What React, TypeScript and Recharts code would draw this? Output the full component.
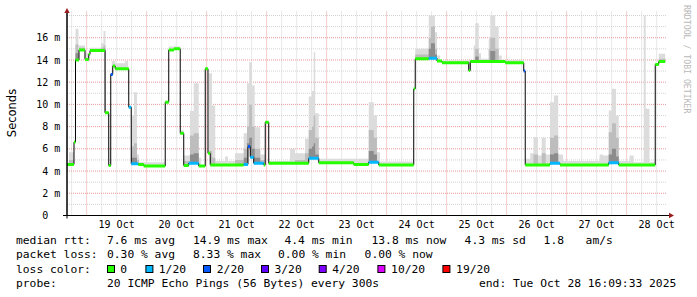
import React from 'react';
import { ComposedChart, Line, Area, XAxis, YAxis, CartesianGrid } from 'recharts';

const W = 697;
const H = 297;
const X_MAX = 240; // hours shown (10 days ending Tue Oct 28 16:09:33 2025)
const Y_MAX = 18.36; // ms
const MONO = '"DejaVu Sans Mono", monospace';

// ---- axis labels / ticks ----
const DAY_LABELS = ['19 Oct', '20 Oct', '21 Oct', '22 Oct', '23 Oct', '24 Oct', '25 Oct', '26 Oct', '27 Oct', '28 Oct'];
const DAY_NOON_HOURS = [19.85, 43.85, 67.85, 91.85, 115.85, 139.85, 163.85, 187.85, 211.85, 235.85];
const MIDNIGHT_HOURS = [7.85, 31.85, 55.85, 79.85, 103.85, 127.85, 151.85, 175.85, 199.85, 223.85];
const Y_TICKS = [0, 2, 4, 6, 8, 10, 12, 14, 16];
const Y_MAJOR_GRID = [2, 4, 6, 8, 10, 12, 14, 16];
const Y_MINOR_GRID = [1, 3, 5, 7, 9, 11, 13, 15, 17, 18];
const X_MINOR_GRID: number[] = [];
for (let h = 1.85; h < X_MAX; h += 6) {
  if (!MIDNIGHT_HOURS.some((m) => Math.abs(m - h) < 0.01)) X_MINOR_GRID.push(h);
}

// ---- loss colours ----
const LOSS_BUCKETS = [0, 1, 2, 3, 4, 10, 19];
const LOSS_LABELS = ['0', '1/20', '2/20', '3/20', '4/20', '10/20', '19/20'];
const LOSS_COLORS = ['#26ff00', '#00b8ff', '#0059ff', '#5e00ff', '#7e00ff', '#dd00ff', '#ff0000'];

// ---- median rtt: [start hour, ms, lost pings] ----
const MEDIAN: [number, number, number][] = [
  [0, 4.6, 0], [2.8, 6.6, 0], [3.4, 14.0, 0], [4.8, 14.9, 0], [7.2, 14.05, 0], [8.7, 14.5, 0],
  [9.2, 14.85, 0], [15.2, 9.25, 0], [16.7, 4.5, 0], [17.5, 12.7, 2], [18.3, 13.45, 0], [19.3, 13.2, 0],
  [24.7, 9.75, 1], [25.7, 4.65, 1], [28.5, 4.6, 0], [30.7, 4.45, 0], [39.3, 10.2, 0], [40.7, 14.9, 0],
  [42.8, 15.0, 0], [45.3, 7.4, 0], [46.7, 4.5, 0], [48.7, 4.7, 1], [52.7, 4.45, 0], [55.3, 13.2, 0],
  [56.4, 5.6, 0], [57.3, 4.55, 0], [70.7, 4.6, 1], [72.4, 6.2, 2], [73.3, 5.25, 1], [74.7, 4.7, 1],
  [78.7, 4.55, 0], [79.3, 8.4, 0], [80.7, 4.7, 0], [96.7, 5.15, 1], [100.7, 4.75, 0], [114.7, 4.6, 0],
  [120.7, 4.8, 1], [124.7, 4.55, 0], [138.7, 11.4, 0], [139.3, 14.1, 0], [144.7, 14.15, 1], [148, 13.9, 0],
  [150, 13.75, 0], [160.7, 13.05, 0], [161.3, 13.85, 0], [175.3, 13.75, 0], [182.7, 13.0, 2], [183.3, 4.55, 0],
  [193.2, 4.7, 1], [197.2, 4.55, 0], [216.7, 4.75, 1], [220.7, 4.55, 0], [235.3, 13.6, 0], [236.7, 13.85, 0],
];
const MEDIAN_END = 239.3;

// ---- smoke: [start hour, end hour, outer top ms, middle top ms, inner top ms] ----
const SMOKE: [number, number, number, number | null, number | null][] = [
  [0.8, 2.8, 5.7, 5.0, null], [3.4, 4.6, 16.8, 15.4, 14.6], [4.8, 7.2, 15.3, 15.1, null],
  [7.2, 9.2, 14.6, null, null], [9.2, 13.6, 15.1, null, null], [13.6, 14.6, 15.5, 15.1, null],
  [14.6, 15.4, 16.6, 15.3, 15.0], [17.9, 19.3, 13.9, null, null], [19.3, 23.2, 13.7, null, null],
  [23.2, 24.5, 13.9, null, null], [25.2, 26.8, 9.0, 6.2, 5.2], [26.8, 28.0, 11.1, 6.5, 5.2],
  [28.0, 28.8, 5.5, 5.0, null], [28.8, 39.3, 4.8, null, null], [40.7, 45.3, 15.2, null, null],
  [45.3, 46.7, 7.65, null, null], [46.7, 49.2, 5.4, 4.9, null], [49.2, 50.7, 9.4, 7.2, 5.5],
  [50.7, 52.7, 11.9, 7.4, 5.6], [52.7, 53.6, 5.2, null, null], [56.7, 58.0, 12.8, 5.8, null],
  [58.0, 59.3, 9.9, 5.2, null], [59.3, 63.2, 4.9, null, null], [63.2, 64.4, 5.3, null, null],
  [64.4, 67.2, 4.9, null, null], [67.2, 70.7, 5.6, 5.0, null], [70.7, 72.0, 7.4, 6.0, 5.2],
  [72.0, 72.9, 11.9, 8.0, 6.5], [72.9, 74.0, 13.8, 10.0, 7.0], [74.0, 75.1, 11.7, 8.0, 6.0],
  [75.1, 77.3, 7.95, 6.0, 5.2], [77.3, 79.2, 5.5, 5.0, null], [80.7, 89.2, 4.9, null, null],
  [89.2, 91.2, 6.0, null, null], [91.2, 95.2, 5.6, 5.0, null], [95.2, 96.7, 6.9, 5.6, null],
  [96.7, 98.0, 10.7, 7.7, 6.0], [98.0, 98.7, 11.2, 8.0, 6.2], [98.7, 99.3, 14.7, 9.0, 6.5],
  [99.3, 100.7, 9.2, 7.0, 5.5], [100.7, 120.7, 5.1, null, null], [120.7, 122.7, 10.2, 7.7, 5.8],
  [122.7, 124.0, 9.0, 7.0, 5.5], [124.0, 125.2, 5.7, null, null], [125.2, 138.7, 4.85, null, null],
  [139.3, 144.7, 15.0, 14.5, null], [144.7, 145.6, 18.0, 16.0, 15.0], [145.6, 147.2, 18.0, 17.0, 15.5],
  [147.2, 148.0, 16.5, 15.0, 14.5], [148.0, 149.2, 14.4, null, null], [149.2, 162.7, 13.95, null, null],
  [162.7, 163.3, 15.3, null, null], [163.3, 164.7, 17.3, 15.0, 14.3], [164.7, 165.6, 14.6, null, null],
  [165.6, 168.7, 14.1, null, null], [168.7, 169.3, 15.9, 15.0, null], [169.3, 171.3, 18.0, 16.0, 14.8],
  [171.3, 172.7, 17.0, 15.0, null], [172.7, 173.9, 14.4, null, null], [173.9, 182.7, 14.0, null, null],
  [183.3, 185.3, 5.1, null, null], [185.3, 186.6, 5.6, null, null], [186.6, 188.4, 7.05, 5.5, null],
  [188.4, 189.9, 5.4, null, null], [189.9, 191.5, 7.0, 5.6, null], [191.5, 193.2, 5.5, null, null],
  [193.2, 194.8, 10.2, 7.0, 5.5], [194.8, 196.5, 10.8, 7.2, 5.6], [196.5, 198.4, 5.5, null, null],
  [198.4, 213.0, 4.9, null, null], [213.0, 214.5, 5.5, null, null], [214.5, 216.7, 5.4, null, null],
  [216.7, 218.0, 9.45, 7.5, 5.5], [218.0, 219.6, 11.4, 8.3, 6.0], [219.6, 220.7, 9.0, 7.0, 5.3],
  [220.7, 225.0, 4.9, null, null], [225.0, 226.7, 5.4, null, null], [226.7, 230.7, 4.8, null, null],
  [230.7, 231.5, 18.0, null, null], [231.5, 233.0, 9.6, null, null], [233.0, 235.3, 4.8, null, null],
  [236.7, 239.3, 14.55, 14.1, null],
];

// ---- legend text ----
const STATS_RTT = [['median rtt:', 16], ['7.6 ms avg', 107], ['14.9 ms max', 193], ['4.4 ms min', 284.5], ['13.8 ms now', 371.5], ['4.3 ms sd', 464.6], ['1.8', 543.6], ['am/s', 585.6]] as [string, number][];
const STATS_LOSS = [['packet loss:', 16], ['0.30 % avg', 107], ['8.33 % max', 193], ['0.00 % min', 278], ['0.00 % now', 364.6]] as [string, number][];
const LOSS_BOX_X = [107.5, 145.9, 203.5, 261.5, 319.2, 377.9, 442.9];
const LOSS_TEXT_X = [120.2, 158.8, 216.8, 274.5, 332.3, 391.1, 456.1];
const PROBE_LINE = [['probe:', 16], ['20 ICMP Echo Pings (56 Bytes) every 300s', 107], ['end: Tue Oct 28 16:09:33 2025', 479]] as [string, number][];

function buildRows() {
  const set = new Set<number>();
  MEDIAN.forEach((s) => set.add(s[0]));
  SMOKE.forEach((s) => { set.add(s[0]); set.add(s[1]); });
  set.add(MEDIAN_END);
  const pts = Array.from(set).filter((t) => t <= MEDIAN_END + 1e-9).sort((a, b) => a - b);
  const segAt = (t: number) => {
    let idx = 0;
    for (let i = 0; i < MEDIAN.length; i++) if (MEDIAN[i][0] <= t + 1e-9) idx = i;
    return idx;
  };
  const smokeAt = (t: number) => SMOKE.find((s) => s[0] <= t + 1e-9 && t < s[1] - 1e-9);
  const rows: any[] = [];
  for (let i = 0; i < pts.length - 1; i++) {
    const a = pts[i];
    const b = pts[i + 1];
    const si = segAt(a);
    const m = MEDIAN[si][1];
    const loss = MEDIAN[si][2];
    const sm = smokeAt(a);
    const base: any = { median: m };
    if (sm) {
      if (sm[2] > m) base.light = [m, sm[2]];
      if (sm[3] != null && sm[3] > m) base.mid = [m, sm[3]];
      if (sm[4] != null && sm[4] > m) base.dark = [m, sm[4]];
    }
    const colored = { ...base, ['c' + loss]: m };
    rows.push({ t: a, ...colored });
    rows.push({ t: b - 0.02, ...colored });
    const last = i === pts.length - 2;
    if (!last && segAt(b) !== si) rows.push({ t: b - 0.01, ...base });
  }
  return rows;
}
const ROWS = buildRows();

const mapScale = (axis: any, v: number, fallback: number) => {
  const s = axis && axis.scale;
  if (typeof s === 'function') return s(v);
  if (s && typeof s.map === 'function') return s.map(v);
  return fallback;
};

const XTick = (props: any) => {
  const { x, y, payload, index } = props;
  const i = typeof index === 'number' ? index : DAY_NOON_HOURS.indexOf(payload.value);
  return (
    <text x={x} y={y + 12.5} textAnchor="middle" fontFamily={MONO} fontSize={10} fill="#000">
      {DAY_LABELS[i]}
    </text>
  );
};

const YTick = (props: any) => {
  const { x, y, payload } = props;
  const v = payload.value;
  return (
    <text x={v === 0 ? x - 12 : x} y={y + 3.6} textAnchor="end" fontFamily={MONO} fontSize={10} fill="#000">
      {v === 0 ? '0' : `${v} m`}
    </text>
  );
};

export default function App() {
  const hGen = (vals: number[]) => ({ yAxis, offset }: any) =>
    vals.map((v) => mapScale(yAxis, v, offset.top + offset.height * (1 - v / Y_MAX)));
  const vGen = (vals: number[]) => ({ xAxis, offset }: any) =>
    vals.map((v) => mapScale(xAxis, v, offset.left + offset.width * (v / X_MAX)));
  const textProps = { fontFamily: MONO, fontSize: 11.3, fill: '#000' };
  return (
    <div style={{ position: 'absolute', left: 0, top: 0, width: W, height: H, background: '#fff' }}>
      <ComposedChart width={W} height={H} data={ROWS} margin={{ top: 11.5, right: 30, bottom: 51.5, left: 7 }}>
        <CartesianGrid stroke="#d2d2d2" strokeDasharray="1 1"
          horizontalCoordinatesGenerator={hGen(Y_MINOR_GRID)} verticalCoordinatesGenerator={vGen(X_MINOR_GRID)} />
        <CartesianGrid stroke="#e79a9a" strokeDasharray="1 1"
          horizontalCoordinatesGenerator={hGen(Y_MAJOR_GRID)} verticalCoordinatesGenerator={vGen(MIDNIGHT_HOURS)} />
        <XAxis dataKey="t" type="number" domain={[0, X_MAX]} ticks={DAY_NOON_HOURS} interval={0}
          tick={<XTick />} tickLine={false} tickSize={0} tickMargin={0} height={30}
          axisLine={{ stroke: '#000' }} allowDataOverflow />
        <YAxis type="number" domain={[0, Y_MAX]} ticks={Y_TICKS} interval={0}
          tick={<YTick />} tickLine={false} tickSize={0} tickMargin={6.6} width={60}
          axisLine={{ stroke: '#000' }} allowDataOverflow />
        <Area dataKey="light" type="linear" stroke="none" fill="#dcdcdc" fillOpacity={1} isAnimationActive={false} dot={false} activeDot={false} />
        <Area dataKey="mid" type="linear" stroke="none" fill="#bdbdbd" fillOpacity={1} isAnimationActive={false} dot={false} activeDot={false} />
        <Area dataKey="dark" type="linear" stroke="none" fill="#8c8c8c" fillOpacity={1} isAnimationActive={false} dot={false} activeDot={false} />
        <Line dataKey="median" type="linear" stroke="#000" strokeWidth={1} dot={false} activeDot={false} isAnimationActive={false} />
        {LOSS_BUCKETS.map((b, i) => (
          <Line key={b} dataKey={'c' + b} type="linear" stroke={LOSS_COLORS[i]} strokeWidth={3}
            dot={false} activeDot={false} isAnimationActive={false} />
        ))}
      </ComposedChart>
      <svg width={W} height={H} style={{ position: 'absolute', left: 0, top: 0, pointerEvents: 'none' }}>
        {/* axis extensions and arrows */}
        <line x1={63} y1={215.5} x2={669} y2={215.5} stroke="#000" strokeWidth={1} />
        <line x1={67} y1={218.5} x2={67} y2={12} stroke="#000" strokeWidth={1} />
        <polygon points="64.3,13 69.7,13 67,8" fill="#9a1e1e" />
        <polygon points="669,212.8 669,218.2 674,215.5" fill="#9a1e1e" />
        {/* y axis title */}
        <text transform="translate(15.5,113) rotate(-90)" textAnchor="middle"
          fontFamily='"DejaVu Sans", sans-serif' fontSize={11.5} fill="#000">Seconds</text>
        {/* watermark */}
        <text transform="translate(684,5) rotate(90)" fontFamily={MONO} fontSize={8.2} fill="#b8b8b8">
          RRDTOOL / TOBI OETIKER
        </text>
        {STATS_RTT.map(([s, x]) => <text key={s} x={x} y={244} {...textProps}>{s}</text>)}
        {STATS_LOSS.map(([s, x]) => <text key={s + x} x={x} y={258.3} {...textProps}>{s}</text>)}
        <text x={16} y={272.5} {...textProps}>loss color:</text>
        {LOSS_LABELS.map((l, i) => (
          <g key={l}>
            <rect x={LOSS_BOX_X[i]} y={265.5} width={7} height={7} fill={LOSS_COLORS[i]} stroke="#000" strokeWidth={1} />
            <text x={LOSS_TEXT_X[i]} y={272.5} {...textProps}>{l}</text>
          </g>
        ))}
        {PROBE_LINE.map(([s, x]) => <text key={s} x={x} y={287.4} {...textProps}>{s}</text>)}
      </svg>
    </div>
  );
}
